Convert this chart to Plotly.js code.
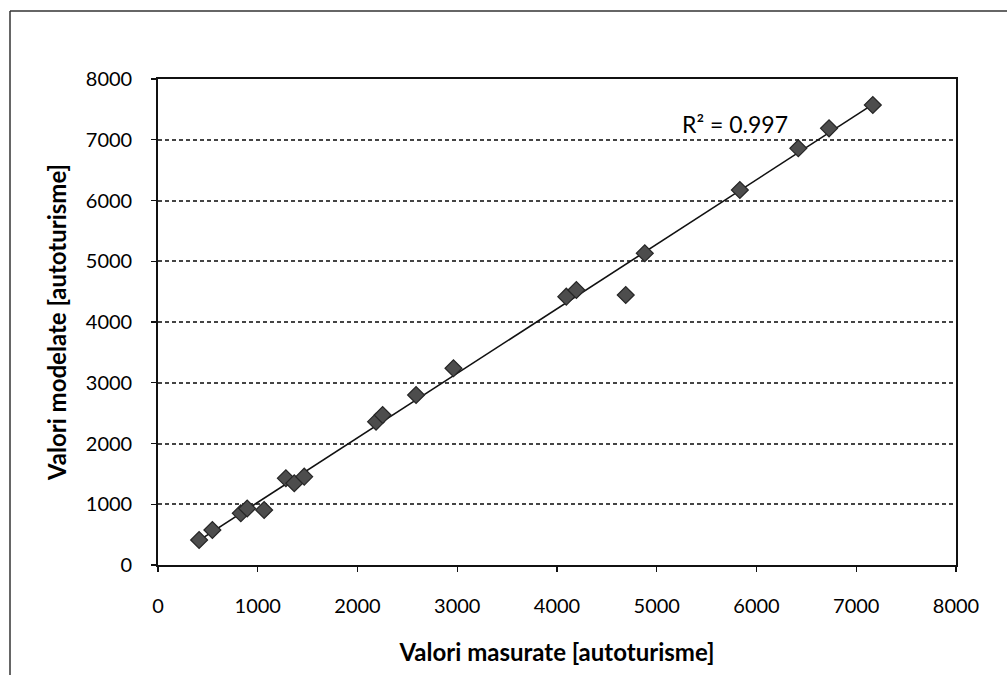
<!DOCTYPE html>
<html>
<head>
<meta charset="utf-8">
<script src="https://cdn.plot.ly/plotly-3.0.1.min.js"></script>
<style>html,body{margin:0;padding:0;background:#fff;}#chart{width:1007px;height:675px;}</style>
</head>
<body>
<div id="chart"></div>
<script>
const measured = [412, 545, 830, 894, 1064, 1282, 1366, 1466, 2186, 2252, 2587, 2962, 4093, 4194, 4689, 4880, 5833, 6419, 6727, 7166];
const modelled = [412, 576, 851, 930, 905, 1427, 1345, 1454, 2359, 2469, 2798, 3238, 4417, 4527, 4444, 5131, 6173, 6859, 7188, 7572];
const tickVals = [0, 1000, 2000, 3000, 4000, 5000, 6000, 7000, 8000];
const tickText = ["0", "1000", "2000", "3000", "4000", "5000", "6000", "7000", "8000"];
const r2Label = "R² = 0.997";
const xTitle = "Valori masurate [autoturisme]";
const yTitle = "Valori modelate [autoturisme]";

// Linear least-squares trendline from the data
const n = measured.length;
let sx = 0, sy = 0, sxx = 0, sxy = 0;
for (let i = 0; i < n; i++) { sx += measured[i]; sy += modelled[i]; sxx += measured[i]*measured[i]; sxy += measured[i]*modelled[i]; }
const slope = (n*sxy - sx*sy) / (n*sxx - sx*sx);
const intercept = (sy - slope*sx) / n;
const xmin = Math.min(...measured), xmax = Math.max(...measured);
const trendX = [xmin, xmax];
const trendY = trendX.map(v => intercept + slope*v);

const font = "Lato, 'Open Sans', sans-serif";

const data = [
  { x: trendX, y: trendY, type: "scatter", mode: "lines",
    line: { color: "#111", width: 1.6 }, hoverinfo: "skip", showlegend: false },
  { x: measured, y: modelled, type: "scatter", mode: "markers",
    marker: { symbol: "diamond", size: 13, color: "#4d4d4d", line: { color: "#262626", width: 1.2 } },
    showlegend: false }
];

const L = 158, R = 51, T = 79, B = 110, W = 1007, H = 675;
const pw = W - L - R, ph = H - T - B;
const px = v => (v - L) / pw;
const py = v => (H - B - v) / ph;

const layout = {
  width: W, height: H,
  margin: { l: L, r: R, t: T, b: B, pad: 0 },
  paper_bgcolor: "#fff", plot_bgcolor: "#fff",
  font: { family: font, color: "#000", size: 20 },
  xaxis: {
    range: [0, 8000], tickmode: "array", tickvals: tickVals, ticktext: tickText,
    showgrid: false, zeroline: false,
    showline: true, linecolor: "#111", linewidth: 1.8, mirror: true,
    ticks: "outside", ticklen: 5, tickcolor: "#111", tickwidth: 1.3,
    ticklabelstandoff: 17,
    tickfont: { family: font, size: 20, color: "#000" },
    title: { text: xTitle, font: { family: font, size: 24, color: "#000", weight: "bold" }, standoff: 28 }
  },
  yaxis: {
    range: [0, 8000], tickmode: "array", tickvals: tickVals, ticktext: tickText,
    showgrid: true, gridcolor: "#444", gridwidth: 2, griddash: "4px,3px",
    zeroline: false,
    showline: true, linecolor: "#111", linewidth: 1.8, mirror: true,
    ticks: "outside", ticklen: 5, tickcolor: "#111", tickwidth: 1.3,
    ticklabelstandoff: 15,
    tickfont: { family: font, size: 20, color: "#000" },
    title: { text: yTitle, font: { family: font, size: 24, color: "#000", weight: "bold" }, standoff: 12 }
  },
  annotations: [
    { x: 5780, y: 7260, xref: "x", yref: "y", text: r2Label, showarrow: false,
      font: { family: font, size: 23, color: "#000" }, xanchor: "center", yanchor: "middle" }
  ],
  shapes: [
    { type: "line", xref: "paper", yref: "paper", x0: px(10), x1: px(1010), y0: py(11), y1: py(11),
      line: { color: "#333", width: 1.5 } },
    { type: "line", xref: "paper", yref: "paper", x0: px(10), x1: px(10), y0: py(11), y1: py(680),
      line: { color: "#333", width: 1.5 } }
  ]
};

Plotly.newPlot("chart", data, layout, { displayModeBar: false, staticPlot: true });
</script>
</body>
</html>
